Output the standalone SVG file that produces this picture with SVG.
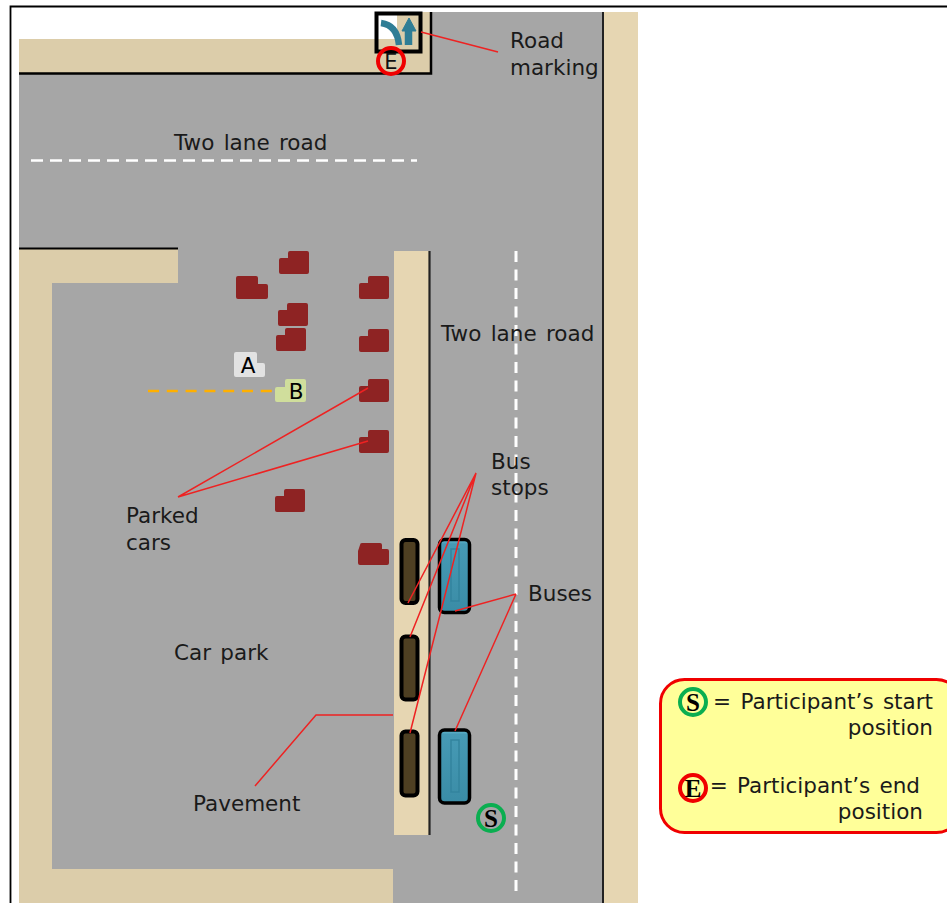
<svg xmlns="http://www.w3.org/2000/svg" width="947" height="903" viewBox="0 0 947 903">
<style>
text{font-family:"DejaVu Sans","Liberation Sans",sans-serif;font-size:21.5px;word-spacing:2.5px;fill:#1a1a1a}
.tan{fill:#dccdaa}
.pale{fill:#e6d6b2}
.car{fill:#8e2323}
.ln{fill:none;stroke:#ee2222;stroke-width:1.5}
.stop{fill:#4e3f22;stroke:#000;stroke-width:4}
.bus{fill:url(#busg);stroke:#000;stroke-width:3.5}
.busi{fill:none;stroke:#33849e;stroke-width:1.5}
.mk{font-family:"Liberation Serif",serif;font-weight:bold;font-size:25px;fill:#000;text-anchor:middle}
</style>
<defs>
<linearGradient id="busg" x1="0" y1="0" x2="0" y2="1"><stop offset="0" stop-color="#6cc0d6"/><stop offset="0.06" stop-color="#469ab5"/><stop offset="1" stop-color="#3a8ca6"/></linearGradient>
<path id="carL" d="M1 9Q1 7 3 7H10V2Q10 0 12 0H29Q31 0 31 2V21Q31 23 29 23H3Q1 23 1 21Z"/>
</defs>
<rect width="947" height="903" fill="#fff"/>
<g id="ground">
<rect x="19" y="12" width="619" height="891" fill="#a6a6a6"/>
<rect x="19" y="12" width="356" height="27" fill="#fff"/>
<rect x="19" y="39" width="412" height="34" class="tan"/>
<rect x="375" y="12" width="56" height="61" class="tan"/>
<rect x="378" y="15" width="19" height="24" fill="#fff"/>
<path d="M19 249H178V283H52V869H393V903H19Z" class="tan"/>
<rect x="394" y="251" width="36" height="584" class="pale"/>
<rect x="603" y="12" width="35" height="891" class="pale"/>
</g>
<g id="frame" fill="none" stroke="#000">
<path d="M947 6.500H10.500V903" stroke-width="1.800"/>
<path d="M19 73.500H431V12" stroke-width="2.500"/>
<path d="M19 248.500H178" stroke-width="2"/>
<path d="M429.500 251V835" stroke-width="2.200" stroke="#222"/>
<path d="M603 12V903" stroke-width="2" stroke="#222"/>
</g>
<g id="road-marks" fill="none">
<path d="M31 160.500H417" stroke="#fff" stroke-width="2.500" stroke-dasharray="12 7"/>
<path d="M516 251V896" stroke="#fff" stroke-width="3" stroke-dasharray="11 7.500"/>
<path d="M148 391H272" stroke="#ffb000" stroke-width="2.500" stroke-dasharray="11 7.800"/>
</g>
<g id="cars" class="car">
<use href="#carL" x="278" y="251"/>
<path id="car2" d="M236 278Q236 276 238 276H256Q258 276 258 278V284H266Q268 284 268 286V297Q268 299 266 299H238Q236 299 236 297Z"/>
<use href="#carL" x="358" y="276"/>
<use href="#carL" x="277" y="303"/>
<use href="#carL" x="275" y="328"/>
<use href="#carL" x="358" y="329"/>
<use href="#carL" x="358" y="379"/>
<use href="#carL" x="358" y="430"/>
<use href="#carL" x="274" y="489"/>
<path d="M360 545Q360 543 362 543H380Q382 543 382 545V549H387Q389 549 389 551V563Q389 565 387 565H360Q358 565 358 563V551Z"/>
</g>
<g id="label-a">
<path d="M234 354Q234 352 236 352H255Q257 352 257 354V363H263Q265 363 265 365V375Q265 377 263 377H236Q234 377 234 375Z" fill="#e2e2e2"/>
<text x="248" y="373" text-anchor="middle" style="fill:#000;font-size:21.500px">A</text>
</g>
<g id="label-b">
<path d="M285 381Q285 379 287 379H304Q306 379 306 381V400Q306 402 304 402H277Q275 402 275 400V389Q275 387 277 387H285Z" fill="#d0de9c"/>
<text x="296" y="399" text-anchor="middle" style="fill:#000;font-size:21.500px">B</text>
</g>
<g id="bus-stops">
<rect x="401.500" y="540" width="16" height="63" rx="4" class="stop"/>
<rect x="401.500" y="636.500" width="16" height="63" rx="4" class="stop"/>
<rect x="401.500" y="731.500" width="16" height="64" rx="4" class="stop"/>
</g>
<g id="buses">
<rect x="439.500" y="539.500" width="30" height="73" rx="5" class="bus"/>
<rect x="451" y="549" width="8" height="52" class="busi"/>
<rect x="439.500" y="730" width="30" height="73" rx="5" class="bus"/>
<rect x="451" y="740" width="8" height="52" class="busi"/>
</g>
<g id="road-marking">
<path d="M381 23Q397 25 399 45" fill="none" stroke="#2f7d95" stroke-width="6.500"/>
<path d="M408.500 45V30" stroke="#2f7d95" stroke-width="7.500" fill="none"/>
<path d="M402 31L409 18L416 31Z" fill="#2f7d95" stroke="#2f7d95" stroke-width="1"/>
<rect x="376.500" y="13.500" width="44" height="38" fill="none" stroke="#000" stroke-width="4"/>
</g>
<g id="connectors">
<path class="ln" d="M421 32L498 52"/>
<path class="ln" d="M178 497L368 388M178 497L368 441"/>
<path class="ln" d="M476 473L408 603M476 473L410 637M476 473L410 733"/>
<path class="ln" d="M516 594L455 611M516 594L455 731"/>
<path class="ln" d="M393 715H316L255 786"/>
</g>
<g id="labels">
<text x="510" y="48">Road</text>
<text x="510" y="75">marking</text>
<text x="174" y="150">Two lane road</text>
<text x="441" y="341">Two lane road</text>
<text x="126" y="523">Parked</text>
<text x="126" y="550">cars</text>
<text x="491" y="469">Bus</text>
<text x="491" y="495">stops</text>
<text x="528" y="601">Buses</text>
<text x="174" y="660">Car park</text>
<text x="193" y="811">Pavement</text>
</g>
<g id="end-marker">
<circle cx="391" cy="61" r="13" fill="none" stroke="#f00000" stroke-width="4"/>
<text x="391" y="69" text-anchor="middle" style="font-size:21px;fill:#111">E</text>
</g>
<g id="start-marker">
<circle cx="491" cy="818" r="13" fill="none" stroke="#0aae50" stroke-width="4"/>
<text x="491" y="826.500" class="mk">S</text>
</g>
<g id="legend">
<rect x="660.500" y="679.500" width="300" height="153" rx="24" fill="#ffff99" stroke="#f00000" stroke-width="3"/>
<circle cx="693" cy="702" r="13" fill="none" stroke="#0aae50" stroke-width="4"/>
<text x="693" y="710.500" class="mk">S</text>
<text x="933" y="709" text-anchor="end">= Participant’s start</text>
<text x="933" y="735" text-anchor="end">position</text>
<circle cx="693" cy="788" r="13" fill="none" stroke="#f00000" stroke-width="4"/>
<text x="693" y="796.500" class="mk">E</text>
<text x="920" y="793" text-anchor="end">= Participant’s end</text>
<text x="923" y="819" text-anchor="end">position</text>
</g>
</svg>
